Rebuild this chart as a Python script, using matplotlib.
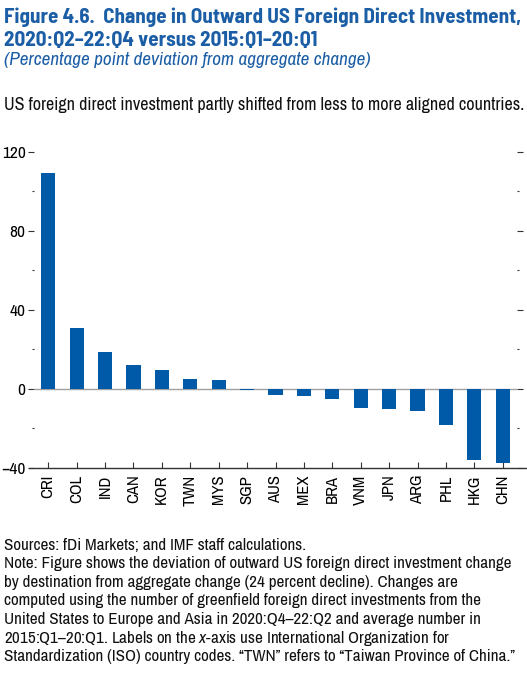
import matplotlib

matplotlib.use("Agg")
import matplotlib.pyplot as plt  # noqa: E402

# Data
countries = ["CRI", "COL", "IND", "CAN", "KOR", "TWN", "MYS", "SGP", "AUS",
             "MEX", "BRA", "VNM", "JPN", "ARG", "PHL", "HKG", "CHN"]
deviation = [109.0, 30.8, 18.8, 12.0, 9.6, 5.1, 4.6, -0.7, -3.4,
             -3.5, -5.1, -9.6, -10.1, -11.3, -18.3, -36.3, -37.5]
major_ticks = [-40, 0, 40, 80, 120]
minor_ticks = [-20, 20, 60, 100]

title_lines = ["Figure 4.6.  Change in Outward US Foreign Direct Investment,",
               "2020:Q2\u201322:Q4 versus 2015:Q1\u201320:Q1"]
subtitle = "(Percentage point deviation from aggregate change)"
lead = "US foreign direct investment partly shifted from less to more aligned countries."
notes = [
    "Sources: fDi Markets; and IMF staff calculations.",
    "Note: Figure shows the deviation of outward US foreign direct investment change",
    "by destination from aggregate change (24 percent decline). Changes are",
    "computed using the number of greenfield foreign direct investments from the",
    "United States to Europe and Asia in 2020:Q4\u201322:Q2 and average number in",
    "2015:Q1\u201320:Q1. Labels on the $x$-axis use International Organization for",
    "Standardization (ISO) country codes. \u201cTWN\u201d refers to \u201cTaiwan Province of China.\u201d",
]

BLUE = "#1b5ea6"
BAR = "#005aa7"
BODY_FONT = ["Archivo Narrow", "DejaVu Sans"]
TITLE_FONT = ["Barlow Semi Condensed", "DejaVu Sans"]

plt.rcParams["font.family"] = BODY_FONT
plt.rcParams["mathtext.fontset"] = "custom"
plt.rcParams["mathtext.rm"] = "Archivo Narrow"
plt.rcParams["mathtext.it"] = "Archivo Narrow:italic"

W, H = 527, 675
fig = plt.figure(figsize=(W / 100, H / 100), dpi=100)


def px(x, y):
    return x / W, 1 - y / H


# axes placed in pixel terms
left, right, top, bottom = 34, 517, 151.7, 467.7
ax = fig.add_axes([left / W, 1 - bottom / H, (right - left) / W, (bottom - top) / H])

ax.bar(range(len(countries)), deviation, width=0.5, color=BAR, zorder=3)
ax.axhline(0, color="#a0a0a0", lw=1.0, zorder=2)

ax.set_xlim(-0.5, len(countries) - 0.5)
ax.set_ylim(-40, 120)
ax.set_xticks(range(len(countries)))
ax.set_xticklabels(countries, rotation=90, fontsize=12)
ax.set_yticks(major_ticks)
ax.set_yticklabels([str(t).replace("-", "\u2212") for t in major_ticks], fontsize=12.5)
ax.set_yticks(minor_ticks, minor=True)

for s in ["top", "left", "right", "bottom"]:
    ax.spines[s].set_visible(False)
# bottom axis line runs a little past the plot area on both sides
ax.plot([-0.01, 1.03], [0, 0], transform=ax.transAxes, color="#333333",
        lw=1.0, clip_on=False, zorder=4)

ax.tick_params(axis="x", direction="in", length=4, width=0.8, color="#333333",
               pad=5)
ax.tick_params(axis="y", which="major", direction="out", length=4, width=0.8,
               color="#333333", right=True, pad=2)
ax.tick_params(axis="y", which="minor", direction="out", length=1.5, width=0.8,
               color="#333333", right=True)

# header text
for i, line in enumerate(title_lines):
    fig.text(*px(4, 23 + i * 23.5), line, color=BLUE, fontsize=15.2,
             fontweight="bold", family=TITLE_FONT, va="baseline", ha="left")
fig.text(*px(4, 65), subtitle, color=BLUE, fontsize=13.8, style="italic",
         va="baseline", ha="left")
fig.text(*px(4, 110), lead, color="#111111", fontsize=13, va="baseline", ha="left")

# footer notes
for i, line in enumerate(notes):
    fig.text(*px(4, 549.5 + i * 18.65), line, color="#111111", fontsize=12.25,
             va="baseline", ha="left")

fig.savefig("out.png", dpi=100)
